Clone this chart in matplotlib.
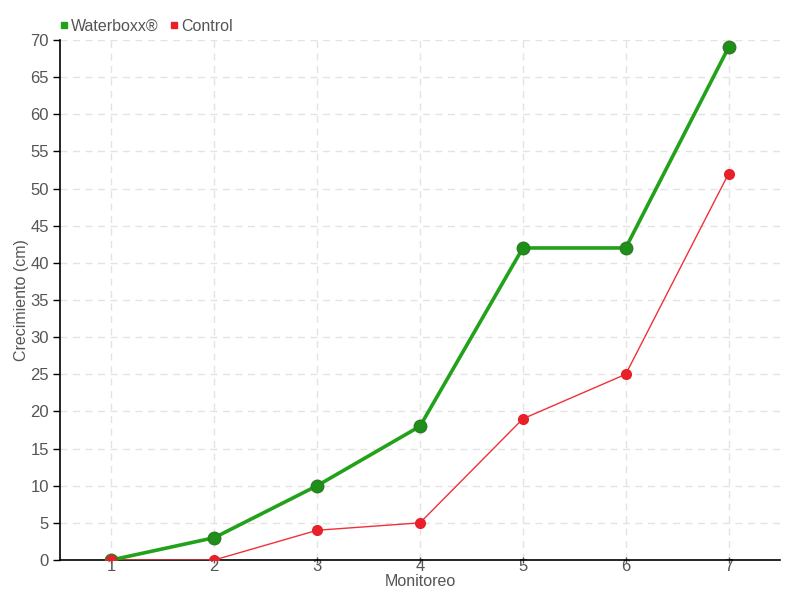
import matplotlib
matplotlib.use("Agg")
import matplotlib.pyplot as plt
from matplotlib.lines import Line2D

monitoreo = [1, 2, 3, 4, 5, 6, 7]
waterboxx = [0, 3, 10, 18, 42, 42, 69]
control = [0, 0, 4, 5, 19, 25, 52]

plt.rcParams['font.family'] = ['Liberation Sans', 'DejaVu Sans']

fig = plt.figure(figsize=(8, 6), dpi=100)
ax = fig.add_axes([0.075, 0.0667, 0.9, 0.8667])

ax.plot(monitoreo, control, color='#f0303a', linewidth=1, zorder=3)
ax.plot(monitoreo, control, linestyle='none', marker='o', markersize=7,
        markerfacecolor='#e8202a', markeredgecolor='#e8202a', zorder=5)
ax.plot(monitoreo, waterboxx, color='#22a11a', linewidth=2.6, zorder=4)
ax.plot(monitoreo, waterboxx, linestyle='none', marker='o', markersize=9,
        markerfacecolor='#1e9018', markeredgecolor='#2f7a2a', markeredgewidth=1, zorder=4)

ax.set_xlim(0.5, 7.5)
ax.set_ylim(0, 70)
ax.set_xticks(monitoreo)
ax.set_yticks(range(0, 71, 5))
ax.grid(True, color='#e3e3e3', linestyle=(0, (5, 4)), linewidth=1)
ax.set_axisbelow(True)
for side in ('top', 'right'):
    ax.spines[side].set_visible(False)
ax.spines['left'].set_linewidth(1.2)
ax.spines['bottom'].set_linewidth(1.2)
ax.tick_params(axis='y', length=5, width=1, colors='black', labelcolor='#555555', labelsize=12, pad=3)
ax.tick_params(axis='x', length=5, direction='inout', width=1, colors='#555555', labelcolor='#555555', labelsize=12, pad=-3)

ax.set_xlabel('Monitoreo', color='#555555', fontsize=11.5, labelpad=0)
ax.set_ylabel('Crecimiento (cm)', color='#555555', fontsize=11.5, labelpad=1)

handles = [
    Line2D([], [], linestyle='none', marker='s', markersize=4, color='#22a11a'),
    Line2D([], [], linestyle='none', marker='s', markersize=4, color='#e8202a'),
]
fig.legend(handles, ['Waterboxx®', 'Control'], loc='upper left', bbox_to_anchor=(0.053, 0.993),
           ncol=2, frameon=False, fontsize=11.5, handletextpad=0.0, columnspacing=0.5,
           handlelength=0.9, labelcolor='#555555')

fig.savefig('out.png', dpi=100)
